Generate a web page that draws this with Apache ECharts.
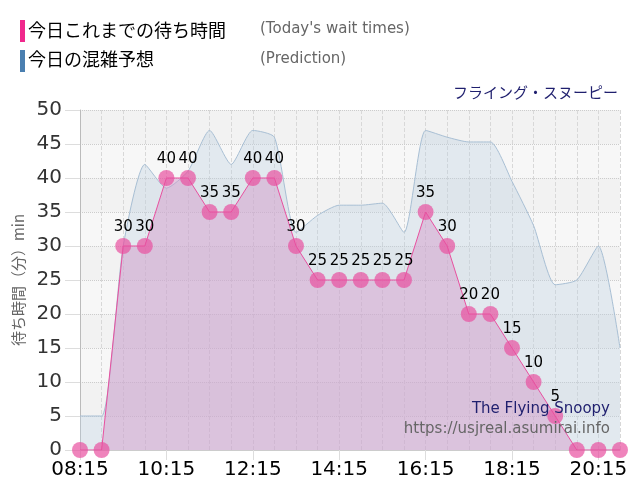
<!DOCTYPE html>
<html>
<head>
<meta charset="utf-8">
<script src="https://cdn.jsdelivr.net/npm/echarts@6/dist/echarts.min.js"></script>
<style>
  html, body { margin: 0; padding: 0; background: #fff; }
  #main { width: 640px; height: 500px; }
</style>
</head>
<body>
<div id="main"></div>
<script>
// 時刻（30分ごと）
var times = ['08:15','08:45','09:15','09:45','10:15','10:45','11:15','11:45','12:15','12:45',
             '13:15','13:45','14:15','14:45','15:15','15:45','16:15','16:45','17:15','17:45',
             '18:15','18:45','19:15','19:45','20:15','20:45'];
// 今日これまでの待ち時間
var waitTimes = [0,0,30,30,40,40,35,35,40,40,30,25,25,25,25,25,35,30,20,20,15,10,5,0,0,0];
// 今日の混雑予想
var prediction = [5,5,30,42,38.5,41,47,42,47,46,32,34.5,36,36,36.3,32,47,46,45.3,45.3,39.5,33,24.3,25,30,15];

var FONT = '"DejaVu Sans", Verdana, "Noto Sans CJK JP", sans-serif';
var JFONT = '"Noto Sans CJK JP", "DejaVu Sans", sans-serif';

var myChart = echarts.init(document.getElementById('main'));

myChart.setOption({
    animation: false,
    backgroundColor: '#fff',
    grid: { left: 80, right: 20, top: 110, bottom: 50 },
    title: {
        text: 'フライング・スヌーピー',
        right: 17, top: 80,
        textStyle: { fontFamily: JFONT, fontSize: 15, fontWeight: 'normal', color: '#1f1f6e' }
    },
    xAxis: {
        type: 'category',
        data: times,
        boundaryGap: false,
        axisLine: { lineStyle: { color: '#cccccc' } },
        axisTick: { interval: 3, length: 10, lineStyle: { color: '#dddddd' } },
        axisLabel: { interval: 3, fontFamily: FONT, fontSize: 20, color: '#000', margin: 10 },
        splitLine: { show: true, interval: 0, lineStyle: { color: '#d8d8d8', type: 'dashed' } }
    },
    yAxis: {
        type: 'value',
        min: 0, max: 50, interval: 5,
        name: '待ち時間（分）min',
        nameLocation: 'middle',
        nameGap: 52,
        nameTextStyle: { fontFamily: JFONT, fontSize: 15, color: '#666' },
        axisLine: { show: true, lineStyle: { color: '#bbbbbb' } },
        axisTick: { show: true, length: 15, lineStyle: { color: '#dddddd' } },
        axisLabel: { fontFamily: FONT, fontSize: 20, color: '#333', margin: 18 },
        splitLine: { lineStyle: { color: '#cccccc', type: 'dotted' } },
        splitArea: { show: true, areaStyle: { color: ['#f7f7f7', '#f2f2f2'] } }
    },
    graphic: [
        { type: 'rect', left: 20, top: 20, shape: { width: 5, height: 22 }, style: { fill: '#f0288c' } },
        { type: 'text', left: 28, top: 21, style: { text: '今日これまでの待ち時間', font: '18px ' + JFONT, fill: '#000' } },
        { type: 'text', left: 260, top: 22, style: { text: "(Today's wait times)", font: '15px ' + FONT, fill: '#666' } },
        { type: 'rect', left: 20, top: 50, shape: { width: 5, height: 22 }, style: { fill: '#4a7fb0' } },
        { type: 'text', left: 28, top: 50, style: { text: '今日の混雑予想', font: '18px ' + JFONT, fill: '#000' } },
        { type: 'text', left: 260, top: 52, style: { text: '(Prediction)', font: '15px ' + FONT, fill: '#666' } },
        { type: 'text', right: 30, top: 402, z: 10, style: { text: 'The Flying Snoopy', font: '15px ' + FONT, fill: '#1f1f6e' } },
        { type: 'text', right: 30, top: 422, z: 10, style: { text: 'https://usjreal.asumirai.info', font: '15px ' + FONT, fill: '#666' } }
    ],
    series: [
        {
            name: '今日の混雑予想',
            type: 'line',
            data: prediction,
            smooth: 0.2,
            showSymbol: false,
            lineStyle: { color: '#a8bfd4', width: 1 },
            areaStyle: { color: 'rgba(187,207,223,0.5)' },
            z: 2
        },
        {
            name: '今日これまでの待ち時間',
            type: 'line',
            data: waitTimes,
            symbol: 'circle',
            symbolSize: 16,
            showSymbol: true,
            showAllSymbol: true,
            itemStyle: { color: 'rgba(232,80,160,0.7)' },
            lineStyle: { color: '#e8509f', width: 1 },
            areaStyle: { color: 'rgba(210,150,200,0.65)' },
            label: {
                show: true,
                position: 'top',
                distance: 3,
                fontFamily: FONT,
                fontSize: 15,
                color: '#000',
                formatter: function (p) { return p.value === 0 ? '' : p.value; }
            },
            labelLayout: { hideOverlap: false },
            z: 3
        }
    ]
});
</script>
</body>
</html>
